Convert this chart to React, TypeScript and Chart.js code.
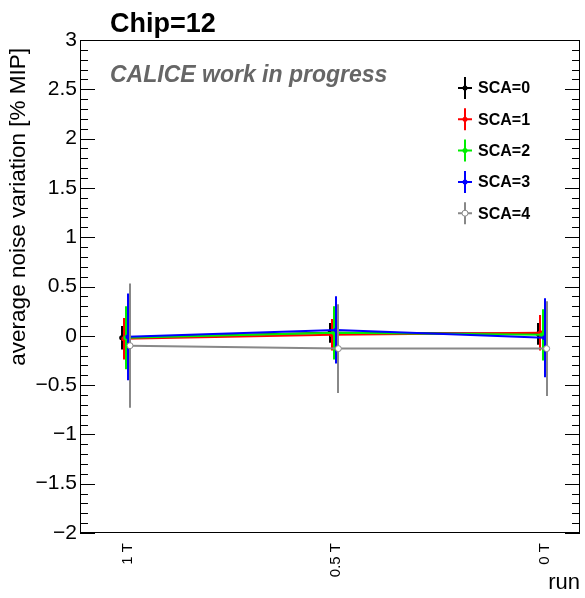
import React, { useEffect, useRef } from "react";
import { Chart, registerables } from "chart.js";

Chart.register(...registerables);

// ---- data ----
const runLabels = ["1 T", "0.5 T", "0 T"];
const seriesNames = ["SCA=0", "SCA=1", "SCA=2", "SCA=3", "SCA=4"];
const sca0 = [-0.02, 0.03, 0.02];
const sca1 = [-0.03, 0.01, 0.03];
const sca2 = [-0.02, 0.03, 0.01];
const sca3 = [-0.01, 0.06, -0.02];
const sca4 = [-0.1, -0.13, -0.13];
const sca0Err = [0.12, 0.1, 0.11];
const sca1Err = [0.21, 0.16, 0.18];
const sca2Err = [0.32, 0.27, 0.26];
const sca3Err = [0.44, 0.34, 0.4];
const sca4Err = [0.63, 0.45, 0.48];
const yTickValues = [-2, -1.5, -1, -0.5, 0, 0.5, 1, 1.5, 2, 2.5, 3];
const yTickLabels = ["\u22122", "\u22121.5", "\u22121", "\u22120.5", "0", "0.5", "1", "1.5", "2", "2.5", "3"];

const values = [sca0, sca1, sca2, sca3, sca4];
const errors = [sca0Err, sca1Err, sca2Err, sca3Err, sca4Err];
const colors = ["#000000", "#ff0000", "#00ee00", "#0000ff", "#888888"];

const FONT = "'Liberation Sans', Arial, Helvetica, sans-serif";
const SERIES_SHIFT = 0.01;
const LABEL_SHIFT = 0.03;

const rootPlugin = {
  id: "rootStyle",
  beforeDatasetDraw(chart: any, args: any) {
    const i = args.index;
    const ctx = chart.ctx;
    const xs = chart.scales.x;
    const ys = chart.scales.y;
    ctx.save();
    ctx.strokeStyle = colors[i];
    ctx.lineWidth = 2;
    values[i].forEach((v, k) => {
      const px = Math.round(xs.getPixelForValue(k + i * SERIES_SHIFT));
      ctx.beginPath();
      ctx.moveTo(px, ys.getPixelForValue(v + errors[i][k]));
      ctx.lineTo(px, ys.getPixelForValue(v - errors[i][k]));
      ctx.stroke();
    });
    ctx.restore();
  },
  afterDatasetsDraw(chart: any) {
    const ctx = chart.ctx;
    const a = chart.chartArea;
    const ys = chart.scales.y;
    ctx.save();
    // frame
    ctx.strokeStyle = "#000";
    ctx.lineWidth = 1;
    ctx.strokeRect(a.left + 0.5, a.top + 0.5, a.right - a.left - 1, a.bottom - a.top - 1);
    // y ticks (inside, left and right)
    for (let n = -20; n <= 30; n++) {
      const v = n / 10;
      const py = Math.round(ys.getPixelForValue(v)) + 0.5;
      const len = n % 5 === 0 ? 15 : 8;
      ctx.beginPath();
      ctx.moveTo(a.left, py);
      ctx.lineTo(a.left + len, py);
      ctx.moveTo(a.right, py);
      ctx.lineTo(a.right - len, py);
      ctx.stroke();
    }
    // legend
    seriesNames.forEach((name, i) => {
      const cy = 88 + i * 31.3;
      const cx = 465;
      ctx.strokeStyle = colors[i];
      ctx.lineWidth = 2;
      ctx.beginPath();
      ctx.moveTo(cx, cy - 11);
      ctx.lineTo(cx, cy + 11);
      ctx.moveTo(cx - 7, cy);
      ctx.lineTo(cx + 7, cy);
      ctx.stroke();
      ctx.beginPath();
      ctx.arc(cx, cy, i === 4 ? 3 : 2.5, 0, Math.PI * 2);
      ctx.fillStyle = i === 4 ? "#ffffff" : colors[i];
      ctx.fill();
      if (i === 4) {
        ctx.lineWidth = 1;
        ctx.stroke();
      }
      ctx.fillStyle = "#000";
      ctx.font = `bold 16px ${FONT}`;
      ctx.textAlign = "left";
      ctx.textBaseline = "middle";
      ctx.fillText(name, 478, cy + 1);
    });
    // title & label
    ctx.textBaseline = "alphabetic";
    ctx.textAlign = "left";
    ctx.fillStyle = "#000";
    ctx.font = `bold 27px ${FONT}`;
    ctx.fillText("Chip=12", 110, 32);
    ctx.fillStyle = "#666666";
    ctx.font = `italic bold 23px ${FONT}`;
    ctx.fillText("CALICE work in progress", 110, 82);
    // y axis title
    ctx.save();
    ctx.translate(25, 48);
    ctx.rotate(-Math.PI / 2);
    ctx.fillStyle = "#000";
    ctx.font = `22.5px ${FONT}`;
    ctx.textAlign = "right";
    ctx.textBaseline = "alphabetic";
    ctx.fillText("average noise variation [% MIP]", 0, 0);
    ctx.restore();
    ctx.restore();
  },
};

export default function App() {
  const ref = useRef<HTMLCanvasElement | null>(null);
  useEffect(() => {
    if (!ref.current) return;
    const datasets = values.map((vals, i) => ({
      label: seriesNames[i],
      data: vals.map((v, k) => ({ x: k + i * SERIES_SHIFT, y: v })),
      borderColor: colors[i],
      backgroundColor: i === 4 ? "#ffffff" : colors[i],
      borderWidth: 2,
      pointRadius: i === 4 ? 3 : 2.5,
      pointBorderWidth: i === 4 ? 1 : 0,
      pointBorderColor: colors[i],
      pointBackgroundColor: i === 4 ? "#ffffff" : colors[i],
      showLine: true,
      tension: 0,
      order: 4 - i,
    }));
    const chart = new Chart(ref.current, {
      type: "scatter",
      data: { datasets },
      plugins: [rootPlugin],
      options: {
        animation: false,
        responsive: false,
        events: [],
        layout: { padding: { top: 40, right: 3, left: 0, bottom: 0 } },
        plugins: { legend: { display: false }, tooltip: { enabled: false } },
        scales: {
          x: {
            type: "linear",
            min: -0.2,
            max: 2.2,
            afterBuildTicks: (s: any) => {
              s.ticks = runLabels.map((_, k) => ({ value: k + LABEL_SHIFT }));
            },
            afterFit: (s: any) => {
              s.height = 65;
            },
            ticks: {
              autoSkip: false,
              minRotation: 90,
              maxRotation: 90,
              padding: 10,
              color: "#000",
              font: { family: FONT, size: 15 },
              callback: (_v: any, i: number) => runLabels[i],
            },
            grid: { display: false, drawTicks: false },
            border: { display: false },
            title: {
              display: true,
              text: "run",
              align: "end",
              color: "#000",
              font: { family: FONT, size: 22 },
              padding: { top: 0, bottom: 2 },
            },
          },
          y: {
            min: -2,
            max: 3,
            afterBuildTicks: (s: any) => {
              s.ticks = yTickValues.map((v) => ({ value: v }));
            },
            afterFit: (s: any) => {
              s.width = 80;
            },
            ticks: {
              padding: 3,
              color: "#000",
              font: { family: FONT, size: 21 },
              callback: (_v: any, i: number) => yTickLabels[i],
            },
            grid: { display: false, drawTicks: false },
            border: { display: false },
            title: { display: false },
          },
        },
      },
    } as any);
    return () => chart.destroy();
  }, []);
  return (
    <div style={{ position: "fixed", left: 0, top: 0, width: 585, height: 598, background: "#fff" }}>
      <canvas ref={ref} width={585} height={598} style={{ display: "block" }} />
    </div>
  );
}
